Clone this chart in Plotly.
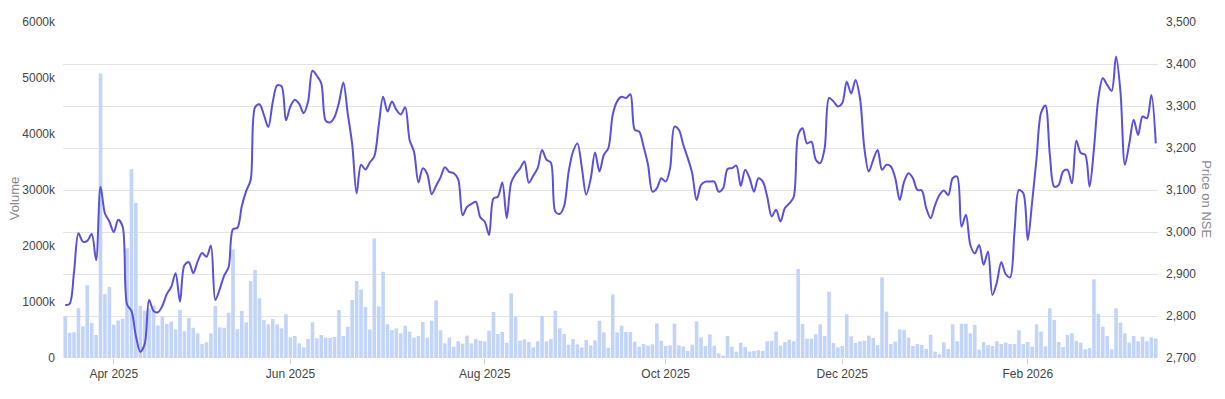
import pandas as pd
import plotly.graph_objects as go

# ---- data -------------------------------------------------------------
start_date = "2025-03-13"
end_date = "2026-03-13"
nse_holidays = ["2025-03-14", "2025-03-31", "2025-04-10", "2025-04-14", "2025-04-18",
                "2025-05-01", "2025-08-15", "2025-08-27", "2025-10-02", "2025-10-22",
                "2025-11-05", "2025-12-25", "2026-01-15", "2026-01-26", "2026-03-03"]
special_sessions = ["2026-02-01"]

volume_k = [
    740, 450, 460, 890, 565, 1300, 625, 410, 5080, 1140,
    1270, 595, 670, 700, 1960, 3370, 2770, 930, 845, 880,
    930, 580, 740, 610, 650, 510, 860, 480, 715, 540,
    440, 250, 280, 440, 930, 547, 540, 810, 1940, 518,
    839, 637, 1375, 1571, 1065, 678, 601, 696, 601, 530,
    780, 369, 393, 262, 190, 339, 637, 351, 411, 363,
    363, 375, 857, 393, 559, 1035, 1375, 1226, 910, 512,
    2136, 922, 1541, 601, 500, 530, 440, 577, 470, 363,
    393, 643, 363, 666, 1029, 494, 262, 363, 202, 298,
    256, 399, 262, 339, 309, 298, 488, 821, 428, 464,
    274, 1154, 738, 309, 333, 286, 190, 298, 750, 298,
    339, 845, 530, 428, 238, 339, 244, 190, 321, 226,
    315, 666, 458, 184, 1136, 458, 577, 464, 464, 292,
    202, 250, 220, 244, 619, 309, 214, 226, 613, 226,
    208, 125, 238, 655, 369, 214, 422, 220, 83, 42,
    393, 202, 113, 274, 196, 113, 125, 137, 125, 298,
    309, 470, 220, 286, 327, 298, 1589, 607, 345, 345,
    422, 601, 393, 1184, 268, 190, 214, 780, 387, 268,
    298, 309, 399, 357, 232, 1440, 827, 250, 292, 512,
    500, 363, 214, 250, 232, 161, 417, 113, 65, 280,
    161, 601, 298, 613, 613, 440, 589, 149, 286, 232,
    214, 298, 250, 274, 250, 250, 494, 250, 286, 202,
    601, 470, 208, 887, 678, 286, 196, 411, 440, 303,
    274, 155, 179, 1404, 785, 559, 393, 155, 887, 631,
    440, 274, 393, 298, 381, 298, 369, 351,
]

price = [
    2826, 2829, 2905, 2997, 2977, 2979, 2995, 2933, 3108, 3044,
    3025, 3000, 3029, 3013, 2828, 2812, 2753, 2715, 2733, 2838,
    2812, 2809, 2824, 2852, 2869, 2902, 2834, 2921, 2928, 2902,
    2930, 2950, 2941, 2967, 2838, 2864, 2896, 2916, 3007, 3010,
    3062, 3098, 3124, 3297, 3304, 3279, 3250, 3309, 3349, 3347,
    3266, 3299, 3315, 3305, 3283, 3310, 3384, 3372, 3354, 3265,
    3261, 3274, 3308, 3356, 3281, 3209, 3092, 3160, 3149, 3166,
    3180, 3253, 3322, 3287, 3311, 3291, 3280, 3297, 3219, 3191,
    3118, 3152, 3138, 3090, 3110, 3130, 3154, 3143, 3140, 3126,
    3040, 3060, 3067, 3072, 3035, 3025, 2993, 3080, 3084, 3118,
    3033, 3118, 3138, 3151, 3168, 3117, 3134, 3152, 3195, 3172,
    3165, 3049, 3043, 3062, 3142, 3191, 3211, 3154, 3089, 3126,
    3189, 3144, 3184, 3199, 3279, 3311, 3322, 3319, 3328, 3243,
    3239, 3203, 3160, 3096, 3104, 3128, 3120, 3152, 3251, 3243,
    3207, 3176, 3140, 3076, 3112, 3120, 3120, 3120, 3096, 3104,
    3150, 3152, 3158, 3110, 3148, 3128, 3096, 3128, 3120, 3084,
    3037, 3053, 3025, 3057, 3068, 3084, 3231, 3247, 3211, 3215,
    3172, 3164, 3199, 3319, 3311, 3299, 3307, 3358, 3330, 3362,
    3319, 3199, 3144, 3172, 3195, 3148, 3160, 3156, 3128, 3076,
    3120, 3140, 3128, 3100, 3099, 3057, 3033, 3064, 3088, 3099,
    3088, 3128, 3132, 3013, 3041, 2969, 2949, 2969, 2922, 2953,
    2850, 2880, 2928, 2900, 2892, 3001, 3100, 3092, 2981, 3072,
    3176, 3283, 3301, 3184, 3108, 3112, 3144, 3148, 3116, 3217,
    3188, 3184, 3108, 3199, 3319, 3366, 3350, 3336, 3418, 3334,
    3160, 3211, 3267, 3231, 3275, 3271, 3326, 3211,
]

tick_months = [4, 6, 8, 10, 12, 2]
vol_tick_k = [0, 1000, 2000, 3000, 4000, 5000, 6000]
vol_tick_text = ["0", "1000k", "2000k", "3000k", "4000k", "5000k", "6000k"]
left_title = "Volume"
right_title = "Price on NSE"

# ---- trading-day calendar ---------------------------------------------
days = pd.bdate_range(start_date, end_date)
days = days.difference(pd.to_datetime(nse_holidays)).union(pd.to_datetime(special_sessions))
dates = [d.strftime("%Y-%m-%d") for d in days]

tickvals, ticktext, seen = [], [], set()
for d in days:
    key = (d.year, d.month)
    if d.month in tick_months and key not in seen:
        seen.add(key)
        tickvals.append(d.strftime("%Y-%m-%d"))
        ticktext.append(d.strftime("%b %Y"))

n = min(len(dates), len(volume_k), len(price))
dates, volume_k, price = dates[:n], volume_k[:n], price[:n]

FONT = "Arial, Liberation Sans, sans-serif"
TITLE_FONT = dict(family=FONT, size=13, color="#888")

fig = go.Figure()
fig.add_trace(go.Bar(
    x=dates, y=[v * 1000 for v in volume_k], name="Volume",
    marker=dict(color="#c2d5f8", line=dict(width=0)), yaxis="y",
))
fig.add_trace(go.Scatter(
    x=dates, y=price, name="Price on NSE", mode="lines",
    line=dict(color="#5a50dc", width=2, shape="spline", smoothing=0.9), yaxis="y2",
))

# axis titles as annotations (right one reads top-to-bottom like the original)
fig.add_annotation(text=left_title, xref="paper", yref="paper", x=-0.0447, y=0.473,
                   textangle=-90, showarrow=False, font=TITLE_FONT,
                   xanchor="center", yanchor="middle")
fig.add_annotation(text=right_title, xref="paper", yref="paper", x=1.0447, y=0.473,
                   textangle=90, showarrow=False, font=TITLE_FONT,
                   xanchor="center", yanchor="middle")

# page body has an 8px margin, so the figure is sized/offset to compensate
fig.update_layout(
    width=1217, height=391,
    margin=dict(l=55, r=67, t=14, b=41),
    paper_bgcolor="white", plot_bgcolor="white",
    showlegend=False, bargap=0.18,
    font=dict(family=FONT, size=12, color="#444"),
    xaxis=dict(
        type="category", tickvals=tickvals, ticktext=ticktext, automargin=False,
        showgrid=False, zeroline=False, showline=False,
        ticks="outside", ticklen=5, tickcolor="#cccccc",
        tickfont=dict(size=12, color="#444"),
    ),
    yaxis=dict(
        range=[0, 6000000], tickvals=[v * 1000 for v in vol_tick_k], ticktext=vol_tick_text,
        showgrid=False, zeroline=False, showline=False, automargin=False,
        ticklabelstandoff=7,
        tickfont=dict(size=12, color="#444"),
    ),
    yaxis2=dict(
        overlaying="y", side="right", range=[2700, 3500], dtick=100,
        tickformat=",d", showgrid=True, gridcolor="#e3e3e3", gridwidth=1,
        zeroline=False, showline=False, automargin=False,
        ticklabelstandoff=7,
        tickfont=dict(size=12, color="#444"),
    ),
)

fig.write_html("out.html")
